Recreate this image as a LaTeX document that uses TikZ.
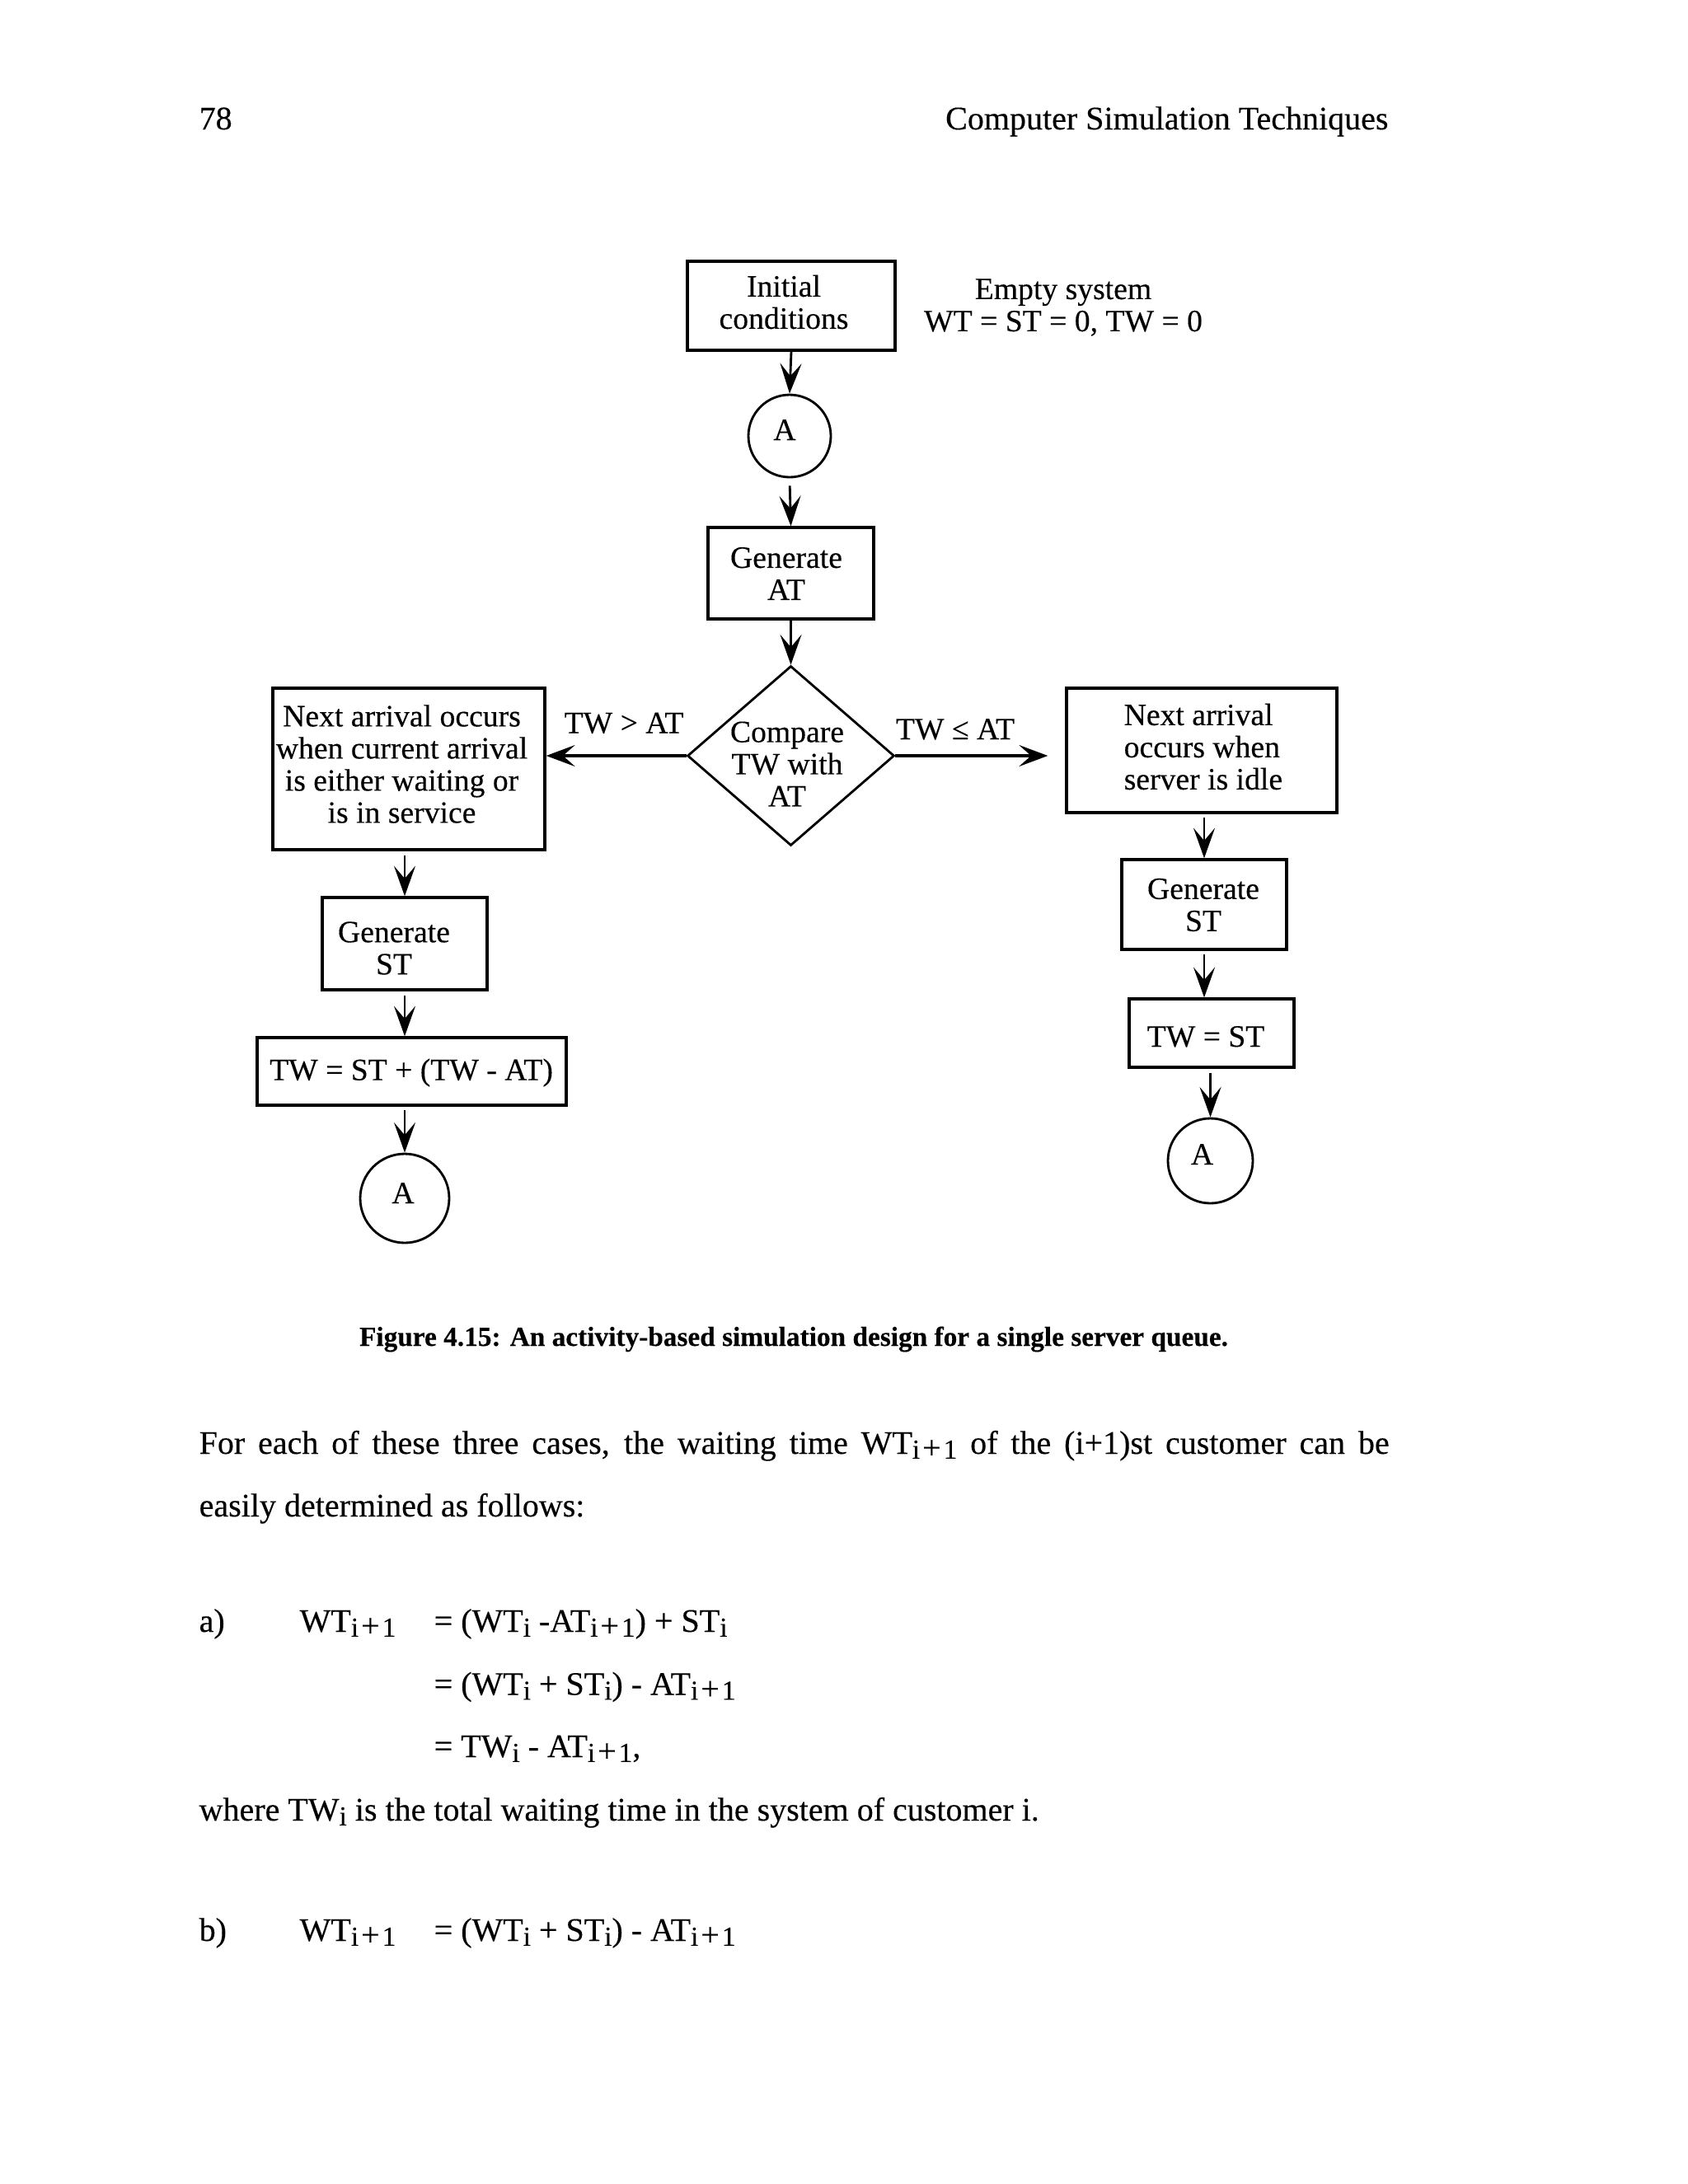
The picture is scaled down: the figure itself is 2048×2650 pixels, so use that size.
\documentclass[tikz,border=0pt]{standalone}
\usepackage{fontspec}
\setmainfont{Liberation Serif}[FakeBold=0.25]
\usetikzlibrary{arrows.meta,shapes.geometric}
\newcommand{\sbs}[1]{\raisebox{-1.75pt}{\fontsize{10}{12}\selectfont #1}}
\newcommand{\sbp}{\kern0.9pt{\fontsize{12}{12}\selectfont +}\kern0.9pt}
\tikzset{
  bx/.style 2 args={draw, line width=1pt, inner sep=0pt,
    minimum width=#1*0.3pt, minimum height=#2*0.3pt},
  circ/.style={draw, circle, line width=0.85pt, inner sep=0pt, minimum size=#1*0.6pt},
  dia/.style={draw, diamond, line width=0.85pt, inner sep=0pt,
    minimum width=251*0.3pt, minimum height=218*0.3pt},
  txt/.style={inner sep=0pt, align=center, font=\fontsize{11.3pt}{11.7pt}\selectfont},
  pg/.style={inner sep=0pt, anchor=base west, font=\fontsize{12pt}{14pt}\selectfont},
  captxt/.style={inner sep=0pt, anchor=base, font=\fontsize{10pt}{12pt}\selectfont\bfseries},
  arr/.style={line width=0.85pt, -{Stealth[length=11pt,width=7.8pt,inset=4.6pt]}},
  harr/.style={line width=1pt, -{Stealth[length=10.5pt,width=7.8pt,inset=4.4pt]}},
}
\begin{document}
\begin{tikzpicture}[x=0.3pt, y=-0.3pt]
\useasboundingbox[fill=white] (0,0) rectangle (2048,2650);

% header
\node[pg] (pnum) at (241,157) {78};
\node[pg, anchor=base east] (hdr) at (1685,157) {Computer Simulation Techniques};

% flowchart
\node[bx={252}{108}] (init) at (960,371) {};
\node[txt] (initT) at (951,366.5) {Initial\\conditions};
\node[txt] (empty) at (1290,373) {Empty system\\WT = ST = 0, TW = 0};

\node[circ=50] (a1) at (958,529) {};
\node[txt, anchor=base] (a1T) at (952,534) {A};

\node[bx={201}{111}] (genat) at (959.5,695.5) {};
\node[txt] (genatT) at (954,696) {Generate\\AT};

\node[dia] (cmp) at (959.5,917) {};
\node[txt] (cmpT) at (955,927) {Compare\\TW with\\AT};

\node[txt, anchor=base] (gt) at (757,889.5) {TW > AT};
\node[txt, anchor=base] (le) at (1159,897) {TW ≤ AT};

\node[bx={330}{196}] (lbox) at (496,933) {};
\node[txt] (lboxT) at (487.5,927) {Next arrival occurs\\when current arrival\\is either waiting or\\is in service};

\node[bx={200}{112}] (lgen) at (491,1145) {};
\node[txt] (lgenT) at (478,1150.5) {Generate\\ST};

\node[bx={375}{82}] (ltw) at (499.5,1300) {};
\node[txt, anchor=base] (ltwT) at (499,1310.6) {TW = ST + (TW - AT)};

\node[circ=54] (a2) at (491,1454) {};
\node[txt, anchor=base] (a2T) at (489,1460) {A};

\node[bx={328}{151}] (rbox) at (1458,910.5) {};
\node[txt, align=left, anchor=west] (rboxT) at (1363,906) {Next arrival\\occurs when\\server is idle};

\node[bx={200}{109}] (rgen) at (1461,1097.5) {};
\node[txt] (rgenT) at (1460,1098) {Generate\\ST};

\node[bx={200}{83}] (rtw) at (1470,1253.5) {};
\node[txt, anchor=base] (rtwT) at (1463,1270) {TW = ST};

\node[circ=51.5] (a3) at (1468.5,1408.5) {};
\node[txt, anchor=base] (a3T) at (1458.5,1413) {A};

% connectors
\draw[arr] (init.south) -- (a1.north);
\draw[arr, shorten <=2.7pt] (a1.south) -- (genat.north);
\draw[arr] (genat.south) -- (cmp.north);
\draw[harr] (cmp.west) -- (lbox.east |- cmp.west);
\draw[harr, shorten >=6.3pt] (cmp.east) -- (rbox.west |- cmp.east);
\draw[arr, shorten <=1.5pt] (lbox.south -| lgen.north) -- (lgen.north);
\draw[arr, shorten <=1.5pt] (lgen.south) -- (ltw.north -| lgen.south);
\draw[arr, shorten <=1.2pt] (ltw.south -| a2.north) -- (a2.north);
\draw[arr, shorten <=1.2pt] (rbox.south -| rgen.north) -- (rgen.north);
\draw[arr, shorten <=1.2pt] (rgen.south) -- (rtw.north -| rgen.south);
\draw[arr, shorten <=1.5pt] (rtw.south -| a3.north) -- (a3.north);

% caption and body text
\node[captxt] (capt) at (963,1633) {Figure 4.15: An activity-based simulation design for a single server queue.};
\node[pg] (p1) at (241,1764) {\makebox[433.2pt][s]{For each of these three cases, the waiting time WT\sbs{i\sbp1} of the (i+1)st customer can be}};
\node[pg] (p2) at (241,1840) {easily determined as follows:};

\node[pg] (ea) at (241,1980) {a)};
\node[pg] (ea1) at (363,1980) {WT\sbs{i\sbp1}};
\node[pg] (ea2) at (526,1980) {= (WT\sbs{i} -AT\sbs{i\sbp1}) + ST\sbs{i}};
\node[pg] (ea3) at (526,2056.5) {= (WT\sbs{i} + ST\sbs{i}) - AT\sbs{i\sbp1}};
\node[pg] (ea4) at (526,2132) {= TW\sbs{i} - AT\sbs{i\sbp1},};
\node[pg] (wh) at (241,2209) {where TW\sbs{i} is the total waiting time in the system of customer i.};

\node[pg] (eb) at (241,2355) {b)};
\node[pg] (eb1) at (363,2355) {WT\sbs{i\sbp1}};
\node[pg] (eb2) at (526,2355) {= (WT\sbs{i} + ST\sbs{i}) - AT\sbs{i\sbp1}};
\end{tikzpicture}
\end{document}
